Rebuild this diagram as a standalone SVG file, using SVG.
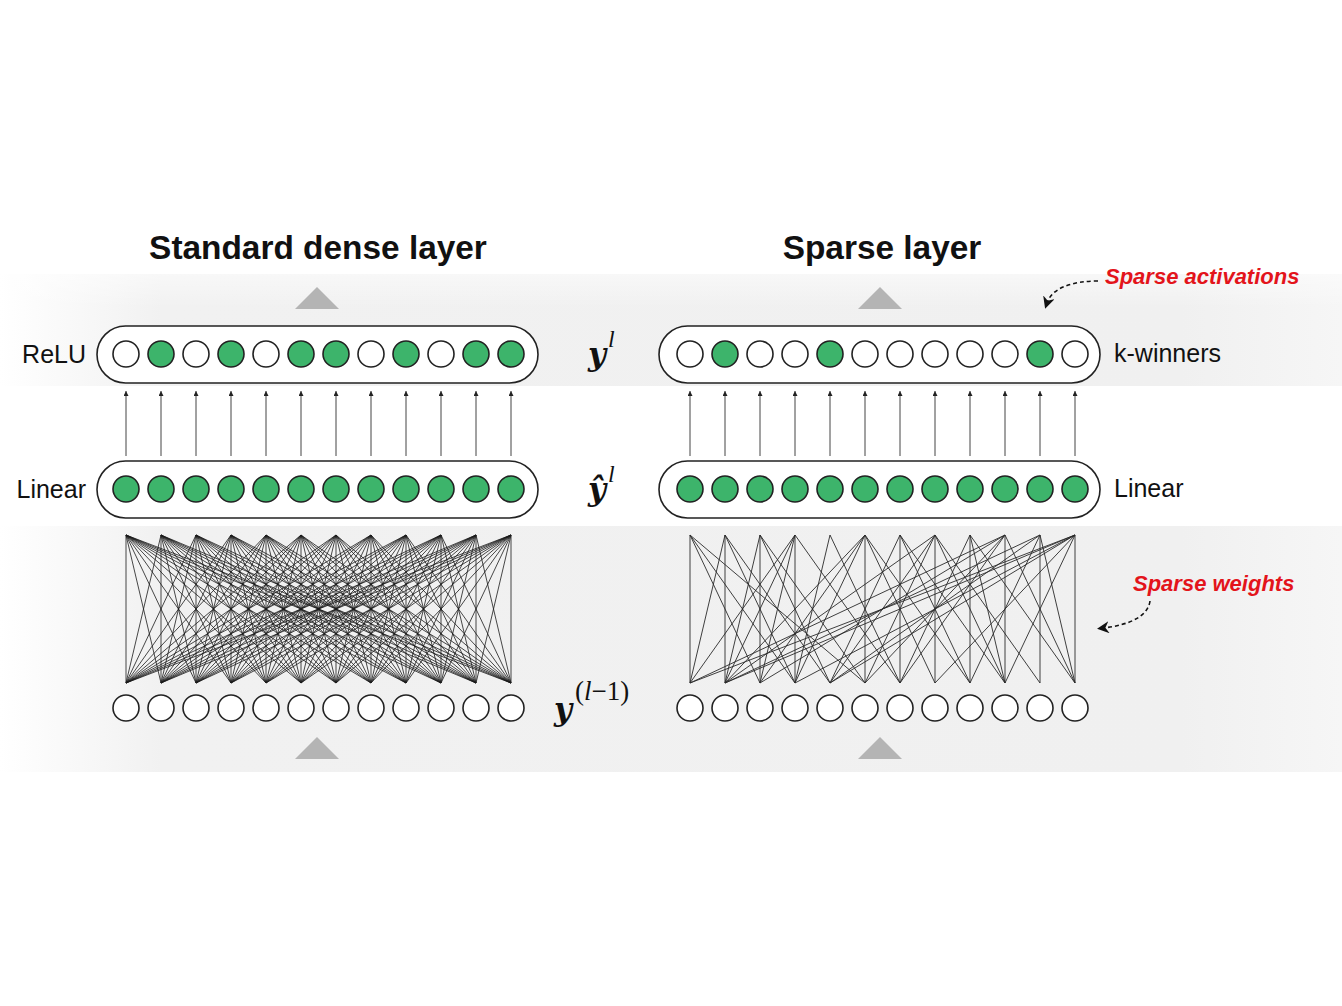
<svg xmlns="http://www.w3.org/2000/svg" width="1342" height="1006" viewBox="0 0 1342 1006">
<defs>
<linearGradient id="band" x1="0" y1="0" x2="1" y2="0">
<stop offset="0" stop-color="#ffffff"/>
<stop offset="0.12" stop-color="#f1f1f1"/>
<stop offset="0.88" stop-color="#f0f0f0"/>
<stop offset="1" stop-color="#f6f6f6"/>
</linearGradient>
<linearGradient id="bandv" x1="0" y1="0" x2="0" y2="1">
<stop offset="0" stop-color="#ffffff" stop-opacity="0.5"/>
<stop offset="0.3" stop-color="#ffffff" stop-opacity="0"/>
</linearGradient>
<marker id="up" viewBox="0 0 6 6" refX="6" refY="3" markerWidth="5" markerHeight="5" markerUnits="userSpaceOnUse" orient="auto">
<path d="M0,0 L6,3 L0,6 Z" fill="#222"/>
</marker>
<marker id="dashhead" viewBox="0 0 10 10" refX="5" refY="5" markerWidth="12" markerHeight="12" markerUnits="userSpaceOnUse" orient="auto">
<path d="M0,0 L10,5 L0,10 L3,5 Z" fill="#111"/>
</marker>
</defs>
<style>
.title{font-family:"Liberation Sans",Arial,sans-serif;font-weight:bold;font-size:33.4px;fill:#111}
.lbl{font-family:"Liberation Sans",Arial,sans-serif;font-size:25px;fill:#111}
.red{font-family:"Liberation Sans",Arial,sans-serif;font-weight:bold;font-style:italic;font-size:22px;fill:#e3141b}
.mathy{font-family:"DejaVu Serif","Liberation Serif",serif;font-style:italic;font-weight:bold;font-size:31px;fill:#111}
.sup{font-family:"Liberation Serif","DejaVu Serif",serif;font-size:24px;fill:#111}
.sup2{font-family:"Liberation Serif","DejaVu Serif",serif;font-size:27px;fill:#111}
.it{font-style:italic}
.pill{fill:#fff;stroke:#222;stroke-width:1.6}
.on{fill:#3db46b;stroke:#222;stroke-width:1.6}
.off{fill:#fff;stroke:#222;stroke-width:1.6}
.tri{fill:#b4b4b4}
.arr{stroke:#444;stroke-width:1;fill:none}
.dense{stroke:#1a1a1a;stroke-width:0.8;fill:none}
.sparse{stroke:#2a2a2a;stroke-width:0.9;fill:none}
.dash{stroke:#111;stroke-width:1.6;fill:none;stroke-dasharray:4 3}
</style>
<rect x="0" y="0" width="1342" height="1006" fill="#fff"/>
<g id="bands">
<rect x="0" y="274" width="1342" height="112" fill="url(#band)"/>
<rect x="0" y="274" width="1342" height="112" fill="url(#bandv)"/>
<rect x="0" y="526" width="1342" height="246" fill="url(#band)"/>
</g>
<g id="titles">
<text class="title" x="318" y="259" text-anchor="middle">Standard dense layer</text>
<text class="title" x="882" y="259" text-anchor="middle">Sparse layer</text>
</g>
<g id="triangles">
<polygon class="tri" points="317,287 295,309 339,309"/>
<polygon class="tri" points="880,287 858,309 902,309"/>
<polygon class="tri" points="317,737 295,759 339,759"/>
<polygon class="tri" points="880,737 858,759 902,759"/>
</g>
<g id="connectors">
<path id="dense-weights" class="dense" d="M126 535L126 683M126 535L161 683M126 535L196 683M126 535L231 683M126 535L266 683M126 535L301 683M126 535L336 683M126 535L371 683M126 535L406 683M126 535L441 683M126 535L476 683M126 535L511 683
M161 535L126 683M161 535L161 683M161 535L196 683M161 535L231 683M161 535L266 683M161 535L301 683M161 535L336 683M161 535L371 683M161 535L406 683M161 535L441 683M161 535L476 683M161 535L511 683
M196 535L126 683M196 535L161 683M196 535L196 683M196 535L231 683M196 535L266 683M196 535L301 683M196 535L336 683M196 535L371 683M196 535L406 683M196 535L441 683M196 535L476 683M196 535L511 683
M231 535L126 683M231 535L161 683M231 535L196 683M231 535L231 683M231 535L266 683M231 535L301 683M231 535L336 683M231 535L371 683M231 535L406 683M231 535L441 683M231 535L476 683M231 535L511 683
M266 535L126 683M266 535L161 683M266 535L196 683M266 535L231 683M266 535L266 683M266 535L301 683M266 535L336 683M266 535L371 683M266 535L406 683M266 535L441 683M266 535L476 683M266 535L511 683
M301 535L126 683M301 535L161 683M301 535L196 683M301 535L231 683M301 535L266 683M301 535L301 683M301 535L336 683M301 535L371 683M301 535L406 683M301 535L441 683M301 535L476 683M301 535L511 683
M336 535L126 683M336 535L161 683M336 535L196 683M336 535L231 683M336 535L266 683M336 535L301 683M336 535L336 683M336 535L371 683M336 535L406 683M336 535L441 683M336 535L476 683M336 535L511 683
M371 535L126 683M371 535L161 683M371 535L196 683M371 535L231 683M371 535L266 683M371 535L301 683M371 535L336 683M371 535L371 683M371 535L406 683M371 535L441 683M371 535L476 683M371 535L511 683
M406 535L126 683M406 535L161 683M406 535L196 683M406 535L231 683M406 535L266 683M406 535L301 683M406 535L336 683M406 535L371 683M406 535L406 683M406 535L441 683M406 535L476 683M406 535L511 683
M441 535L126 683M441 535L161 683M441 535L196 683M441 535L231 683M441 535L266 683M441 535L301 683M441 535L336 683M441 535L371 683M441 535L406 683M441 535L441 683M441 535L476 683M441 535L511 683
M476 535L126 683M476 535L161 683M476 535L196 683M476 535L231 683M476 535L266 683M476 535L301 683M476 535L336 683M476 535L371 683M476 535L406 683M476 535L441 683M476 535L476 683M476 535L511 683
M511 535L126 683M511 535L161 683M511 535L196 683M511 535L231 683M511 535L266 683M511 535L301 683M511 535L336 683M511 535L371 683M511 535L406 683M511 535L441 683M511 535L476 683M511 535L511 683"/>
<path id="sparse-weights" class="sparse" d="M690 535L690 683M690 535L760 683M690 535L795 683M690 535L865 683
M725 535L690 683M725 535L725 683M725 535L795 683M725 535L830 683
M760 535L725 683M760 535L760 683M760 535L830 683M760 535L865 683
M795 535L690 683M795 535L725 683M795 535L760 683M795 535L795 683M795 535L900 683
M830 535L795 683M830 535L900 683
M865 535L725 683M865 535L760 683M865 535L795 683M865 535L865 683M865 535L935 683M865 535L970 683
M900 535L830 683M900 535L900 683M900 535L970 683M900 535L1005 683
M935 535L725 683M935 535L830 683M935 535L865 683M935 535L935 683M935 535L1005 683M935 535L1040 683
M970 535L900 683M970 535L970 683M970 535L1005 683M970 535L1075 683
M1005 535L690 683M1005 535L760 683M1005 535L865 683M1005 535L900 683M1005 535L1005 683M1005 535L1075 683
M1040 535L725 683M1040 535L830 683M1040 535L970 683M1040 535L1040 683M1040 535L1075 683
M1075 535L690 683M1075 535L725 683M1075 535L795 683M1075 535L830 683M1075 535L935 683M1075 535L1005 683M1075 535L1075 683"/>
<g id="relu-arrows" class="arr" marker-end="url(#up)">
<path d="M126 456V391"/><path d="M161 456V391"/><path d="M196 456V391"/><path d="M231 456V391"/><path d="M266 456V391"/><path d="M301 456V391"/><path d="M336 456V391"/><path d="M371 456V391"/><path d="M406 456V391"/><path d="M441 456V391"/><path d="M476 456V391"/><path d="M511 456V391"/>
<path d="M690 456V391"/><path d="M725 456V391"/><path d="M760 456V391"/><path d="M795 456V391"/><path d="M830 456V391"/><path d="M865 456V391"/><path d="M900 456V391"/><path d="M935 456V391"/><path d="M970 456V391"/><path d="M1005 456V391"/><path d="M1040 456V391"/><path d="M1075 456V391"/>
</g>
<path id="arrow-activations" class="dash" d="M1098 281 C1072 281 1052 288 1047 303" marker-end="url(#dashhead)"/>
<path id="arrow-weights" class="dash" d="M1150 601 C1148 616 1130 625 1103 628" marker-end="url(#dashhead)"/>
</g>
<g id="dense-relu">
<rect class="pill" x="97" y="326" width="441" height="57" rx="28.5"/>
<circle class="off" cx="126" cy="354" r="13"/><circle class="on" cx="161" cy="354" r="13"/><circle class="off" cx="196" cy="354" r="13"/><circle class="on" cx="231" cy="354" r="13"/><circle class="off" cx="266" cy="354" r="13"/><circle class="on" cx="301" cy="354" r="13"/><circle class="on" cx="336" cy="354" r="13"/><circle class="off" cx="371" cy="354" r="13"/><circle class="on" cx="406" cy="354" r="13"/><circle class="off" cx="441" cy="354" r="13"/><circle class="on" cx="476" cy="354" r="13"/><circle class="on" cx="511" cy="354" r="13"/>
<text class="lbl" x="86" y="363" text-anchor="end">ReLU</text>
</g>
<g id="dense-linear">
<rect class="pill" x="97" y="461" width="441" height="57" rx="28.5"/>
<circle class="on" cx="126" cy="489" r="13"/><circle class="on" cx="161" cy="489" r="13"/><circle class="on" cx="196" cy="489" r="13"/><circle class="on" cx="231" cy="489" r="13"/><circle class="on" cx="266" cy="489" r="13"/><circle class="on" cx="301" cy="489" r="13"/><circle class="on" cx="336" cy="489" r="13"/><circle class="on" cx="371" cy="489" r="13"/><circle class="on" cx="406" cy="489" r="13"/><circle class="on" cx="441" cy="489" r="13"/><circle class="on" cx="476" cy="489" r="13"/><circle class="on" cx="511" cy="489" r="13"/>
<text class="lbl" x="86" y="498" text-anchor="end">Linear</text>
</g>
<g id="dense-input">
<circle class="off" cx="126" cy="708" r="13"/><circle class="off" cx="161" cy="708" r="13"/><circle class="off" cx="196" cy="708" r="13"/><circle class="off" cx="231" cy="708" r="13"/><circle class="off" cx="266" cy="708" r="13"/><circle class="off" cx="301" cy="708" r="13"/><circle class="off" cx="336" cy="708" r="13"/><circle class="off" cx="371" cy="708" r="13"/><circle class="off" cx="406" cy="708" r="13"/><circle class="off" cx="441" cy="708" r="13"/><circle class="off" cx="476" cy="708" r="13"/><circle class="off" cx="511" cy="708" r="13"/>
</g>
<g id="sparse-kwinners">
<rect class="pill" x="659" y="326" width="441" height="57" rx="28.5"/>
<circle class="off" cx="690" cy="354" r="13"/><circle class="on" cx="725" cy="354" r="13"/><circle class="off" cx="760" cy="354" r="13"/><circle class="off" cx="795" cy="354" r="13"/><circle class="on" cx="830" cy="354" r="13"/><circle class="off" cx="865" cy="354" r="13"/><circle class="off" cx="900" cy="354" r="13"/><circle class="off" cx="935" cy="354" r="13"/><circle class="off" cx="970" cy="354" r="13"/><circle class="off" cx="1005" cy="354" r="13"/><circle class="on" cx="1040" cy="354" r="13"/><circle class="off" cx="1075" cy="354" r="13"/>
<text class="lbl" x="1114" y="362">k-winners</text>
</g>
<g id="sparse-linear">
<rect class="pill" x="659" y="461" width="441" height="57" rx="28.5"/>
<circle class="on" cx="690" cy="489" r="13"/><circle class="on" cx="725" cy="489" r="13"/><circle class="on" cx="760" cy="489" r="13"/><circle class="on" cx="795" cy="489" r="13"/><circle class="on" cx="830" cy="489" r="13"/><circle class="on" cx="865" cy="489" r="13"/><circle class="on" cx="900" cy="489" r="13"/><circle class="on" cx="935" cy="489" r="13"/><circle class="on" cx="970" cy="489" r="13"/><circle class="on" cx="1005" cy="489" r="13"/><circle class="on" cx="1040" cy="489" r="13"/><circle class="on" cx="1075" cy="489" r="13"/>
<text class="lbl" x="1114" y="497">Linear</text>
</g>
<g id="sparse-input">
<circle class="off" cx="690" cy="708" r="13"/><circle class="off" cx="725" cy="708" r="13"/><circle class="off" cx="760" cy="708" r="13"/><circle class="off" cx="795" cy="708" r="13"/><circle class="off" cx="830" cy="708" r="13"/><circle class="off" cx="865" cy="708" r="13"/><circle class="off" cx="900" cy="708" r="13"/><circle class="off" cx="935" cy="708" r="13"/><circle class="off" cx="970" cy="708" r="13"/><circle class="off" cx="1005" cy="708" r="13"/><circle class="off" cx="1040" cy="708" r="13"/><circle class="off" cx="1075" cy="708" r="13"/>
</g>
<g id="math-labels">
<text x="588" y="365"><tspan class="mathy">y</tspan><tspan class="sup it" dx="2" dy="-18">l</tspan></text>
<text x="588" y="500"><tspan class="mathy">ŷ</tspan><tspan class="sup it" dx="2" dy="-18">l</tspan></text>
<text x="554" y="720"><tspan class="mathy">y</tspan><tspan class="sup2" dx="3" dy="-20">(<tspan class="it">l</tspan>−1)</tspan></text>
</g>
<g id="annotations">
<text class="red" x="1105" y="284">Sparse activations</text>
<text class="red" x="1133" y="591">Sparse weights</text>
</g>
</svg>
